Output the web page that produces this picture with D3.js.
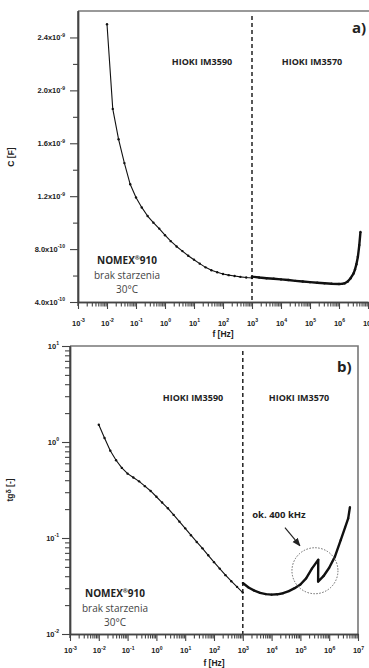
<!DOCTYPE html>
<html>
<head>
<meta charset="utf-8">
<script src="https://cdn.jsdelivr.net/npm/d3@7"></script>
<style>
  body { margin: 0; background: #fff; }
  svg text { font-family: "Liberation Sans", Arial, sans-serif; }
  .note { font-family: "Open Sans", sans-serif; }
</style>
</head>
<body>
<svg id="chart" width="369" height="668"></svg>
<script>
// frequency grid of the IM3590 bridge [Hz]
const fLow = [0.01, 0.0158, 0.0251, 0.0398, 0.0631, 0.1, 0.158, 0.251, 0.398, 0.631,
  1, 1.58, 2.51, 3.98, 6.31, 10, 15.8, 25.1, 39.8, 63.1, 100, 158, 251, 398, 631, 1000];
// capacitance, x1e-10 F
const cLow = [25.0, 18.6, 16.3, 14.5, 12.9, 11.9, 11.15, 10.5, 10.0, 9.55,
  9.05, 8.6, 8.2, 7.85, 7.5, 7.2, 6.9, 6.62, 6.4, 6.25, 6.12, 6.03, 5.96, 5.9, 5.85, 5.81];
// tg delta
const tgLow = [1.51, 1.10, 0.81, 0.645, 0.537, 0.468, 0.427, 0.389, 0.347, 0.309,
  0.269, 0.234, 0.204, 0.174, 0.148, 0.126, 0.107, 0.091, 0.078, 0.066,
  0.056, 0.048, 0.041, 0.0355, 0.031, 0.027];

// IM3570 bridge
const fHighC = [1000, 1780, 3160, 5620, 1e4, 1.78e4, 3.16e4, 5.62e4, 1e5, 1.78e5, 3.16e5, 5.62e5,
  1e6, 1.26e6, 1.58e6, 2e6, 2.51e6, 3.16e6, 3.55e6, 3.98e6, 4.47e6, 5.01e6, 5.5e6];
const cHigh = [5.92, 5.85, 5.80, 5.76, 5.71, 5.66, 5.60, 5.55, 5.50, 5.46, 5.42, 5.38,
  5.36, 5.37, 5.42, 5.55, 5.80, 6.15, 6.45, 6.85, 7.4, 8.3, 9.3];
const fHighTg = [1000, 1580, 2510, 3980, 6310, 1e4, 1.58e4, 2.51e4, 3.98e4, 6.31e4, 1e5, 1.58e5,
  2.51e5, 4.17e5, 4.12e5, 6.31e5, 1e6, 1.58e6, 2.51e6, 3.55e6, 4.57e6, 5.25e6];
const tgHigh = [0.0340, 0.0305, 0.0283, 0.0268, 0.0260, 0.0257, 0.0259, 0.0266, 0.0280, 0.0300,
  0.0328, 0.0380, 0.0480, 0.0593, 0.0352, 0.0400, 0.0490, 0.0640, 0.0950, 0.128, 0.160, 0.210];

const xTicks = [1e-3, 1e-2, 1e-1, 1, 10, 100, 1e3, 1e4, 1e5, 1e6, 1e7];
const cTicks = [4e-10, 8e-10, 1.2e-9, 1.6e-9, 2.0e-9, 2.4e-9];
const cMinor = [6e-10, 1.0e-9, 1.4e-9, 1.8e-9, 2.2e-9];
const tgTicks = [1e-2, 1e-1, 1, 10];
const splitF = 1000;
const jumpF = 3.2e5, jumpV = 0.0456;

const svg = d3.select('#chart');

const minorOf = (decades) => decades.slice(0, -1)
  .flatMap(d => [2, 3, 4, 5, 6, 7, 8, 9].map(m => d * m));

// base text + raised small exponent (dy in px so nothing drifts)
const supText = (text, base, exp, rise = 3.5) => {
  text.text(null);
  text.append('tspan').text(base);
  text.append('tspan').attr('dy', -rise).attr('font-size', '68%').text(exp);
};

const styleAxis = (g) => {
  g.select('.domain').attr('stroke', '#444').attr('stroke-width', 1.4);
  g.selectAll('.tick line').attr('stroke', '#444').attr('stroke-width', 1.1);
  g.selectAll('.tick text').attr('fill', '#222').attr('font-weight', 'bold').attr('font-size', 7.5);
};

const drawXAxis = (x, y0, pad) => {
  const gMinor = svg.append('g').attr('transform', `translate(0,${y0})`)
    .call(d3.axisBottom(x).tickValues(minorOf(xTicks)).tickSize(4.5).tickSizeOuter(0).tickFormat(''));
  styleAxis(gMinor);
  const g = svg.append('g').attr('transform', `translate(0,${y0})`)
    .call(d3.axisBottom(x).tickValues(xTicks).tickSize(7).tickSizeOuter(0).tickPadding(pad));
  styleAxis(g);
  g.selectAll('.tick text').each(function (d) {
    supText(d3.select(this), '10', String(Math.round(Math.log10(d))));
  });
};

const curve = (x, y, fs, vs, width, r) => {
  const pts = fs.map((f, i) => [x(f), y(vs[i])]);
  svg.append('path')
    .attr('d', d3.line()(pts))
    .attr('fill', 'none')
    .attr('stroke', '#111')
    .attr('stroke-width', width)
    .attr('stroke-linejoin', 'round');
  svg.append('g').selectAll('circle').data(pts).join('circle')
    .attr('cx', d => d[0]).attr('cy', d => d[1]).attr('r', r).attr('fill', '#111');
};

const label = (x, y, txt, size, weight, anchor = 'middle', cls = 'note') => svg.append('text')
  .attr('class', cls).attr('x', x).attr('y', y).attr('text-anchor', anchor)
  .attr('font-size', size).attr('font-weight', weight).attr('fill', '#222').text(txt);

const sampleNote = (cx, y) => {
  const t = label(cx, y, null, 10, 'bold');
  t.append('tspan').text('NOMEX');
  t.append('tspan').attr('dy', -4).attr('font-size', 6).text('®');
  t.append('tspan').attr('dy', 4).text('910');
  label(cx, y + 14.5, 'brak starzenia', 10, 'normal').attr('fill', '#444');
  label(cx, y + 29, '30°C', 10, 'normal').attr('fill', '#444');
};

// ---------- a) capacitance ----------
const xA = d3.scaleLog().domain([1e-3, 1e7]).range([78, 368]);
const yA = d3.scaleLinear().domain([4e-10, 2.6e-9]).range([302, 11]);

svg.append('line').attr('x1', 78).attr('x2', 369).attr('y1', 11).attr('y2', 11)
  .attr('stroke', '#777').attr('stroke-width', 1.6);
svg.append('line').attr('x1', xA(splitF)).attr('x2', xA(splitF)).attr('y1', 16).attr('y2', 302)
  .attr('stroke', '#222').attr('stroke-width', 1.5).attr('stroke-dasharray', '4,3');

drawXAxis(xA, 302, 11.5);

const gAm = svg.append('g').attr('transform', 'translate(78,0)')
  .call(d3.axisLeft(yA).tickValues(cMinor).tickSize(5).tickSizeOuter(0).tickFormat(''));
styleAxis(gAm);
const gA = svg.append('g').attr('transform', 'translate(78,0)')
  .call(d3.axisLeft(yA).tickValues(cTicks).tickSize(8).tickSizeOuter(0).tickPadding(5));
styleAxis(gA);
gA.selectAll('.tick text').each(function (d) {
  const e = Math.floor(Math.log10(d));
  supText(d3.select(this), (d / Math.pow(10, e)).toFixed(1) + 'x10', String(e));
});
svg.append('line').attr('x1', 78).attr('x2', 78).attr('y1', 11).attr('y2', 306)
  .attr('stroke', '#444').attr('stroke-width', 1.4);

curve(xA, d => yA(d * 1e-10), fLow, cLow, 1.1, 1.2);
curve(xA, d => yA(d * 1e-10), fHighC, cHigh, 2.4, 1.2);

label(202, 65, 'HIOKI IM3590', 9, 'bold');
label(312, 65, 'HIOKI IM3570', 9, 'bold');
label(352, 33, 'a)', 15, 'bold', 'start');
sampleNote(127, 264);
label(223, 337, 'f [Hz]', 8.5, 'bold', 'middle', 'ax');
label(14, 157, 'C [F]', 8.5, 'bold', 'middle', 'ax').attr('transform', 'rotate(-90,14,157)');

// ---------- b) loss factor ----------
const xB = d3.scaleLog().domain([1e-3, 1e7]).range([70, 358]);
const yB = d3.scaleLog().domain([1e-2, 10]).range([634, 346]);

svg.append('polyline').attr('points', '70,346 358,346 358,634')
  .attr('fill', 'none').attr('stroke', '#777').attr('stroke-width', 1.6);
svg.append('line').attr('x1', xB(splitF)).attr('x2', xB(splitF)).attr('y1', 351).attr('y2', 634)
  .attr('stroke', '#222').attr('stroke-width', 1.5).attr('stroke-dasharray', '4,3');

drawXAxis(xB, 634, 7);

const gBm = svg.append('g').attr('transform', 'translate(70,0)')
  .call(d3.axisLeft(yB).tickValues(minorOf(tgTicks)).tickSize(5).tickSizeOuter(0).tickFormat(''));
styleAxis(gBm);
const gB = svg.append('g').attr('transform', 'translate(70,0)')
  .call(d3.axisLeft(yB).tickValues(tgTicks).tickSize(8).tickSizeOuter(0).tickPadding(3));
styleAxis(gB);
gB.selectAll('.tick text').each(function (d) {
  supText(d3.select(this), '10', String(Math.round(Math.log10(d))));
});
svg.append('line').attr('x1', 70).attr('x2', 70).attr('y1', 346).attr('y2', 638)
  .attr('stroke', '#444').attr('stroke-width', 1.4);

curve(xB, yB, fLow, tgLow, 1.1, 1.2);
curve(xB, yB, fHighTg, tgHigh, 2.4, 1.1);

// 400 kHz annotation
const cx = xB(jumpF), cy = yB(jumpV);
svg.append('circle').attr('cx', cx).attr('cy', cy).attr('r', 23)
  .attr('fill', 'none').attr('stroke', '#666').attr('stroke-width', 1).attr('stroke-dasharray', '1.5,1.5');
svg.append('defs').append('marker').attr('id', 'head')
  .attr('viewBox', '0 0 10 10').attr('refX', 9).attr('refY', 5)
  .attr('markerWidth', 7).attr('markerHeight', 7).attr('orient', 'auto')
  .append('path').attr('d', 'M0,1 L10,5 L0,9 Z').attr('fill', '#222');
svg.append('line').attr('x1', cx - 30).attr('y1', cy - 43).attr('x2', cx - 15).attr('y2', cy - 25)
  .attr('stroke', '#222').attr('stroke-width', 1.2).attr('marker-end', 'url(#head)');
label(279, 518, 'ok. 400 kHz', 9.5, 'bold');

label(193, 400.5, 'HIOKI IM3590', 9, 'bold');
label(299, 400.5, 'HIOKI IM3570', 9, 'bold');
label(337, 372, 'b)', 15, 'bold', 'start');
sampleNote(115, 597);
label(214, 666, 'f [Hz]', 8.5, 'bold', 'middle', 'ax');
const tg = label(13, 490, null, 8.5, 'bold', 'middle', 'ax').attr('transform', 'rotate(-90,13,490)');
tg.append('tspan').text('tg');
tg.append('tspan').attr('dy', -2.5).attr('font-size', 7).text('δ');
tg.append('tspan').attr('dy', 2.5).text(' [-]');
</script>
</body>
</html>
